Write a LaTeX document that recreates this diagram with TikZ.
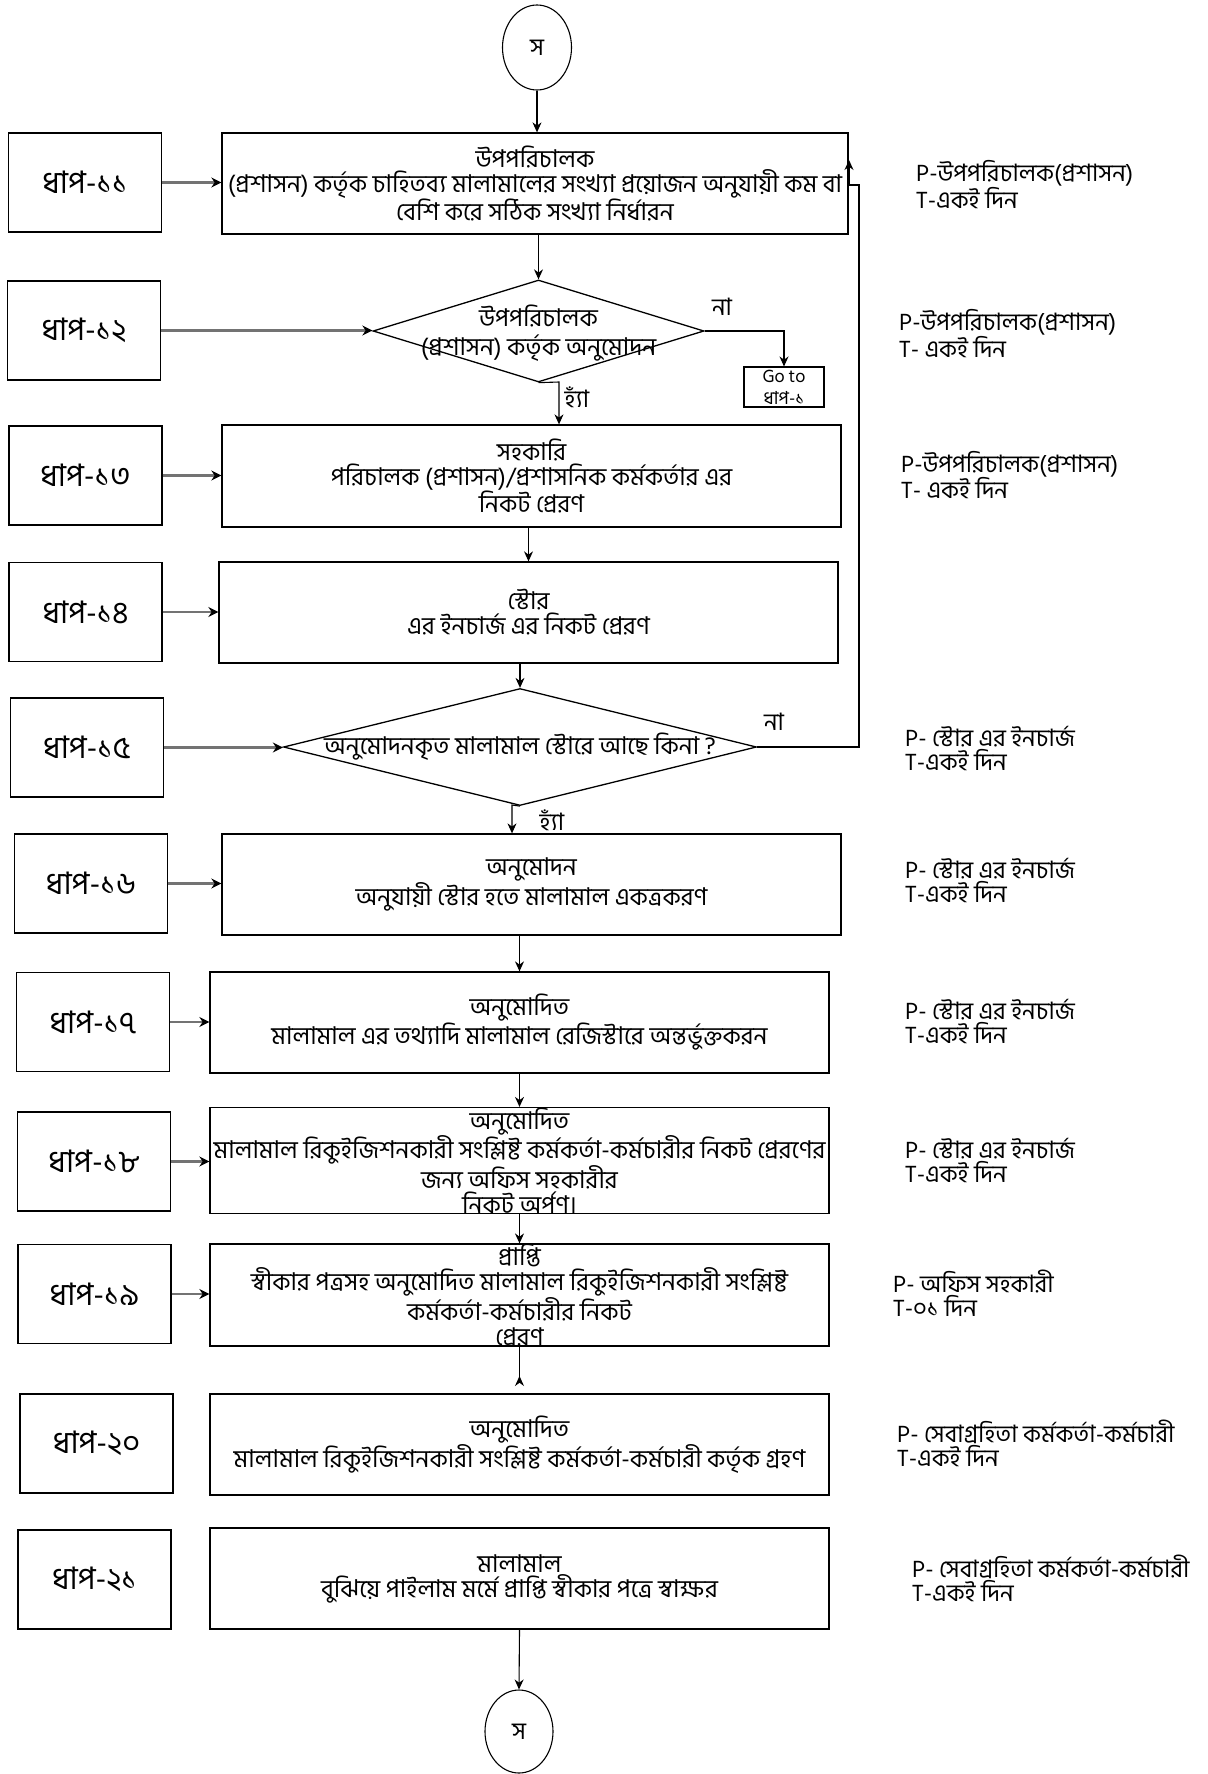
\documentclass[tikz,border=0pt]{standalone}
\usepackage{fontspec}
\newfontfamily\bn[Script=Bengali]{Hind Siliguri}
\usetikzlibrary{arrows.meta,shapes.geometric}
\begin{document}
\begin{tikzpicture}[x=1pt,y=-1pt,
  mainbox/.style={draw,line width=1.3pt,rectangle,inner sep=0pt,align=center,
    font=\bn\fontsize{24.5}{25}\selectfont},
  stepbox/.style={draw,line width=1.3pt,rectangle,inner sep=0pt,minimum width=153pt,minimum height=99pt,
    font=\bn\fontsize{31}{32}\selectfont},
  decision/.style={draw,line width=1.3pt,diamond,inner sep=0pt},
  dtext/.style={align=center,inner sep=0pt,font=\bn\fontsize{24.5}{29}\selectfont},
  note/.style={anchor=west,align=left,inner sep=0pt,font=\bn\fontsize{24}{24}\selectfont},
  lbl/.style={inner sep=0pt,font=\bn\fontsize{24}{24}\selectfont},
  conn/.style={line width=1.1pt,-{Stealth[length=10pt,width=9pt]}},
  stepconn/.style={line width=2.6pt,draw=black!55,-{Stealth[length=10pt,width=10pt,color=black]}},
  term/.style={draw,line width=1.1pt,ellipse,inner sep=0pt,font=\bn\fontsize{24}{24}\selectfont}
]
\path[use as bounding box,fill=white] (0,0) rectangle (1207,1774);

% terminals
\node[term,minimum width=69pt,minimum height=85pt] (c1) at (537,47.5) {স};
\node[term,minimum width=68pt,minimum height=83pt] (c2) at (519,1731.5) {স};

% main boxes
\node[mainbox,minimum width=626pt,minimum height=101pt] (b11) at (535,183.5)
  {উপপরিচালক\\(প্রশাসন) কর্তৃক চাহিতব্য মালামালের সংখ্যা প্রয়োজন অনুযায়ী  কম বা\\বেশি করে সঠিক সংখ্যা নির্ধারন};
\node[decision,minimum width=331pt,minimum height=102pt] (d12) at (538.5,331) {};
\node[dtext] (t12) at (538.5,333) {উপপরিচালক\\(প্রশাসন) কর্তৃক অনুমোদন};
\node[draw,line width=1.1pt,rectangle,inner sep=0pt,minimum width=80pt,minimum height=40pt,align=center,
  font=\bn\fontsize{18}{22}\selectfont] (go) at (784,387) {Go to\\ধাপ-১};
\node[mainbox,minimum width=619pt,minimum height=102pt] (b13) at (531.5,476)
  {সহকারি\\পরিচালক (প্রশাসন)/প্রশাসনিক কর্মকর্তার  এর\\নিকট প্রেরণ};
\node[mainbox,minimum width=619pt,minimum height=101pt] (b14) at (528.5,612.5)
  {স্টোর\\এর ইনচার্জ এর নিকট প্রেরণ};
\node[decision,minimum width=473pt,minimum height=117pt] (d15) at (520,747) {};
\node[dtext] (t15) at (520,747) {অনুমোদনকৃত মালামাল স্টোরে আছে কিনা ?};
\node[mainbox,minimum width=619pt,minimum height=101pt] (b16) at (531.5,884.5)
  {অনুমোদন\\অনুযায়ী স্টোর হতে মালামাল একত্রকরণ};
\node[mainbox,minimum width=619pt,minimum height=101pt] (b17) at (519.5,1022.5)
  {অনুমোদিত\\মালামাল এর তথ্যাদি  মালামাল রেজিস্টারে অন্তর্ভুক্তকরন};
\node[mainbox,minimum width=619pt,minimum height=101pt] (b18) at (519.5,1160.5)
  {অনুমোদিত\\মালামাল রিকুইজিশনকারী সংশ্লিষ্ট কর্মকর্তা-কর্মচারীর নিকট প্রেরণের\\জন্য অফিস সহকারীর\\নিকট অর্পণ।};
\node[mainbox,minimum width=619pt,minimum height=100pt] (b19) at (519.5,1295)
  {প্রাপ্তি\\স্বীকার পত্রসহ অনুমোদিত মালামাল রিকুইজিশনকারী সংশ্লিষ্ট\\কর্মকর্তা-কর্মচারীর নিকট\\প্রেরণ};
\node[mainbox,minimum width=619pt,minimum height=101pt] (b20) at (519.5,1444.5)
  {অনুমোদিত\\মালামাল রিকুইজিশনকারী সংশ্লিষ্ট কর্মকর্তা-কর্মচারী কর্তৃক গ্রহণ};
\node[mainbox,minimum width=619pt,minimum height=101pt] (b21) at (519.5,1578.5)
  {মালামাল\\বুঝিয়ে পাইলাম মর্মে প্রাপ্তি স্বীকার পত্রে স্বাক্ষর};

% step boxes
\node[stepbox] (s11) at (85,182.5) {ধাপ-১১};
\node[stepbox] (s12) at (84,330.5) {ধাপ-১২};
\node[stepbox] (s13) at (85.5,475.5) {ধাপ-১৩};
\node[stepbox] (s14) at (85.5,612) {ধাপ-১৪};
\node[stepbox] (s15) at (87,747.5) {ধাপ-১৫};
\node[stepbox] (s16) at (91,883.5) {ধাপ-১৬};
\node[stepbox] (s17) at (93,1022) {ধাপ-১৭};
\node[stepbox] (s18) at (94,1161.5) {ধাপ-১৮};
\node[stepbox] (s19) at (94.5,1294) {ধাপ-১৯};
\node[stepbox] (s20) at (96.5,1443.5) {ধাপ-২০};
\node[stepbox] (s21) at (94.5,1579.5) {ধাপ-২১};

% notes
\node[note] (r11) at (916,184.5) {P-উপপরিচালক(প্রশাসন)\\T-একই দিন};
\node[note] (r12) at (899,333.5) {P-উপপরিচালক(প্রশাসন)\\T- একই দিন};
\node[note] (r13) at (901,475) {P-উপপরিচালক(প্রশাসন)\\T- একই দিন};
\node[note] (r15) at (905,748.5) {P- স্টোর এর ইনচার্জ\\T-একই দিন};
\node[note] (r16) at (905,880.5) {P- স্টোর এর ইনচার্জ\\T-একই দিন};
\node[note] (r17) at (905,1021.5) {P- স্টোর এর ইনচার্জ\\T-একই দিন};
\node[note] (r18) at (905,1160) {P- স্টোর এর ইনচার্জ\\T-একই দিন};
\node[note] (r19) at (893,1293.5) {P- অফিস সহকারী\\T-০১ দিন};
\node[note] (r20) at (897,1443.5) {P- সেবাগ্রহিতা কর্মকর্তা-কর্মচারী\\T-একই দিন};
\node[note] (r21) at (912,1578.5) {P- সেবাগ্রহিতা কর্মকর্তা-কর্মচারী\\T-একই দিন};

% decision labels
\node[lbl] (n12) at (722,307) {না};
\node[lbl] (y12) at (577,397) {হ্যাঁ};
\node[lbl] (n15) at (774,722) {না};
\node[lbl] (y15) at (552,820) {হ্যাঁ};

% helper coordinates
\coordinate (y12a) at (559,382);
\coordinate (y15a) at (512,805);
\coordinate (l1) at (859,747);
\coordinate (l2) at (859,185);
\coordinate (l3) at (849,185);
\coordinate (l4) at (849,160);
\coordinate (a20) at (519.5,1386);

% main flow
\draw[conn] (c1.south) -- (c1.south |- b11.north);
\draw[conn] (d12.north |- b11.south) -- (d12.north);
\draw[conn] (d12.east) -| (go.north);
\draw[conn] (d12.south) -- (y12a) -- (y12a |- b13.north);
\draw[conn] (b14.north |- b13.south) -- (b14.north);
\draw[conn] (d15.north |- b14.south) -- (d15.north);
\draw[conn] (d15.east) -- (l1) -- (l2) -- (l3) -- (l4);
\draw[conn] (d15.south) -- (y15a) -- (y15a |- b16.north);
\draw[conn] (b16.south -| b17.north) -- (b17.north);
\draw[conn] (b17.south) -- (b18.north);
\draw[conn] (b18.south) -- (b19.north);
\draw[line width=1.1pt,-{Stealth[length=10pt,width=9pt,reversed]}] (b19.south) -- (a20);
\draw[conn] (b21.south) -- (c2.north);

% step arrows
\draw[stepconn] (s11.east) -- (s11.east -| b11.west);
\draw[stepconn] (s12.east) -- (s12.east -| d12.west);
\draw[stepconn] (s13.east) -- (s13.east -| b13.west);
\draw[stepconn] (s14.east) -- (s14.east -| b14.west);
\draw[stepconn] (s15.east) -- (s15.east -| d15.west);
\draw[stepconn] (s16.east) -- (s16.east -| b16.west);
\draw[stepconn] (s17.east) -- (s17.east -| b17.west);
\draw[stepconn] (s18.east) -- (s18.east -| b18.west);
\draw[stepconn] (s19.east) -- (s19.east -| b19.west);
\end{tikzpicture}
\end{document}
